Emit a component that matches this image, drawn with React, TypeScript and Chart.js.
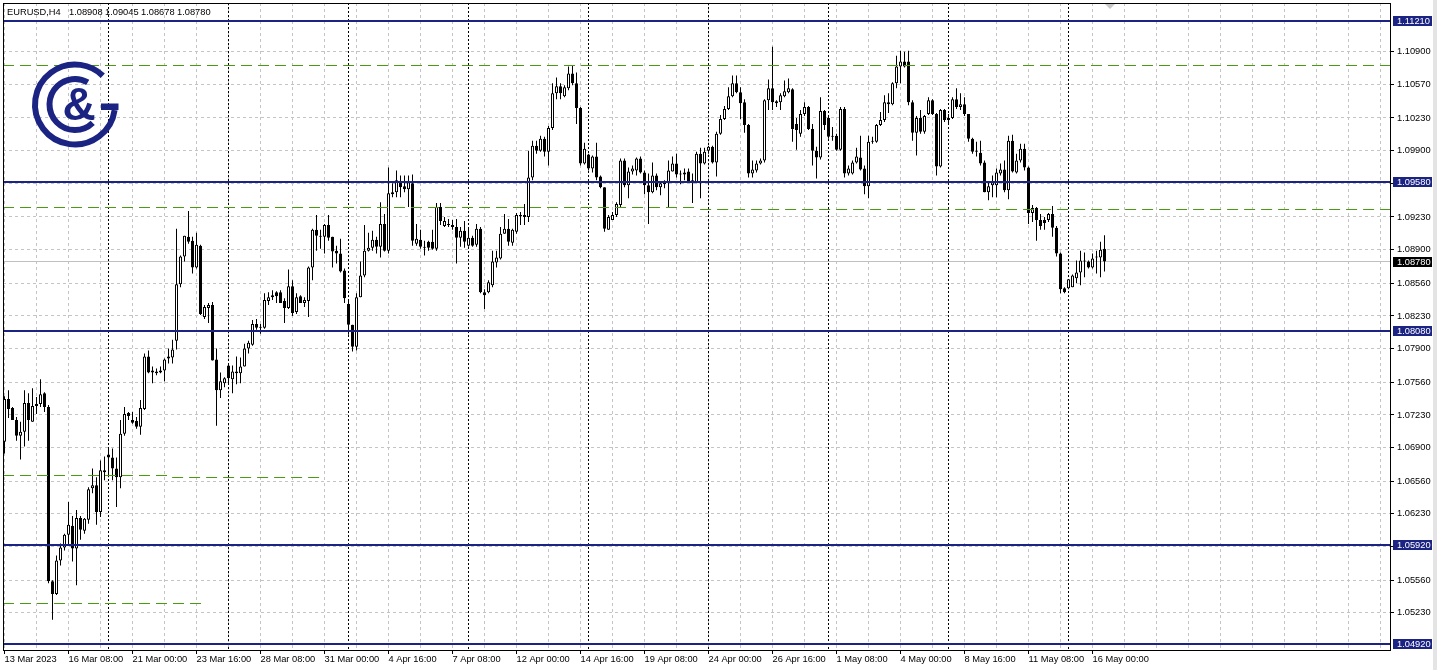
import React, { useEffect, useRef } from "react";
import { Chart, registerables } from "chart.js";

Chart.register(...registerables);

const FONT = "'Liberation Sans', Arial, sans-serif";

const symbolTitle = "EURUSD,H4";
const titleValues = ["1.08908", "1.09045", "1.08678", "1.08780"];

const dateLabels = [
  "13 Mar 2023", "16 Mar 08:00", "21 Mar 00:00", "23 Mar 16:00", "28 Mar 08:00", "31 Mar 00:00",
  "4 Apr 16:00", "7 Apr 08:00", "12 Apr 00:00", "14 Apr 16:00", "19 Apr 08:00", "24 Apr 00:00",
  "26 Apr 16:00", "1 May 08:00", "4 May 00:00", "8 May 16:00", "11 May 08:00", "16 May 00:00",
];
const barsPerLabel = 16;
const barsPerGrid = 8;

const opens = [
  1.0696,1.0739,1.0730,1.0718,1.0702,1.0706,1.0735,1.0716,1.0732,1.0734,1.0745,1.0731,
  1.0555,1.0542,1.0576,1.0589,1.0602,1.0611,1.0588,1.0619,1.0606,1.0617,1.0649,1.0652,
  1.0625,1.0667,1.0683,1.0680,1.0669,1.0660,1.0704,1.0725,1.0718,1.0717,1.0711,1.0729,
  1.0782,1.0768,1.0767,1.0766,1.0768,1.0782,1.0781,1.0798,1.0855,1.0883,1.0903,1.0899,
  1.0872,1.0894,1.0822,1.0831,1.0834,1.0779,1.0748,1.0755,1.0773,1.0759,1.0767,1.0765,
  1.0772,1.0790,1.0794,1.0815,1.0811,1.0811,1.0838,1.0842,1.0847,1.0847,1.0838,1.0831,
  1.0853,1.0827,1.0843,1.0836,1.0838,1.0872,1.0910,1.0904,1.0903,1.0915,1.0903,1.0889,
  1.0886,1.0869,1.0835,1.0814,1.0792,1.0842,1.0864,1.0889,1.0892,1.0900,1.0893,1.0916,
  1.0889,1.0946,1.0948,1.0959,1.0954,1.0951,1.0957,1.0896,1.0900,1.0892,1.0898,1.0898,
  1.0891,1.0933,1.0914,1.0916,1.0915,1.0913,1.0902,1.0909,1.0894,1.0902,1.0895,1.0911,
  1.0847,1.0847,1.0854,1.0877,1.0881,1.0906,1.0911,1.0897,1.0908,1.0924,1.0925,1.0923,
  1.0963,1.0995,1.0990,1.1002,1.0989,1.1013,1.1048,1.1055,1.1045,1.1053,1.1068,1.1058,
  1.1033,1.0977,1.0986,1.0972,1.0984,1.0964,1.0953,1.0910,1.0920,1.0925,1.0935,1.0980,
  1.0955,1.0969,1.0970,1.0982,1.0968,1.0955,1.0948,1.0965,1.0953,1.0956,1.0957,1.0969,
  1.0977,1.0967,1.0966,1.0969,1.0960,1.0958,1.0987,1.0977,1.0990,1.0994,1.0978,1.1007,
  1.1022,1.1032,1.1045,1.1058,1.1049,1.1039,1.1016,1.0967,1.0970,1.0977,1.0980,1.1041,
  1.1053,1.1040,1.1039,1.1045,1.1049,1.1052,1.1017,1.1007,1.1027,1.1034,1.1012,1.0990,
  1.0983,1.1030,1.1023,1.1004,1.1005,1.0991,1.1032,1.0967,1.0967,1.0978,1.0983,1.0972,
  1.0954,1.0999,1.0999,1.1016,1.1021,1.1037,1.1037,1.1058,1.1075,1.1080,1.1080,1.1039,
  1.1008,1.1023,1.1009,1.1027,1.1041,1.1027,1.0974,1.1031,1.1021,1.1023,1.1042,1.1034,
  1.1037,1.1027,1.1002,1.0989,1.0988,1.0978,1.0948,1.0955,1.0955,1.0967,1.0971,1.0950,
  1.1000,1.0968,1.0980,1.0992,1.0973,1.0927,1.0932,1.0920,1.0920,1.0920,1.0926,1.0912,
  1.0886,1.0851,1.0851,1.0852,1.0861,1.0867,1.0878,1.0878,1.0872,1.0883,1.0882,1.08908,
];

const highs = [
  1.0742,1.0748,1.0731,1.0721,1.0716,1.0748,1.0745,1.0750,1.0741,1.0759,1.0746,1.0733,
  1.0556,1.0581,1.0593,1.0603,1.0635,1.0621,1.0627,1.0621,1.0619,1.0650,1.0669,1.0660,
  1.0677,1.0681,1.0689,1.0689,1.0680,1.0718,1.0731,1.0726,1.0726,1.0721,1.0738,1.0785,
  1.0788,1.0772,1.0770,1.0772,1.0780,1.0790,1.0799,1.0911,1.0884,1.0904,1.0929,1.0903,
  1.0907,1.0895,1.0834,1.0836,1.0837,1.0790,1.0766,1.0761,1.0775,1.0773,1.0782,1.0781,
  1.0795,1.0798,1.0819,1.0820,1.0815,1.0846,1.0847,1.0849,1.0848,1.0849,1.0841,1.0870,
  1.0859,1.0846,1.0844,1.0842,1.0873,1.0911,1.0925,1.0910,1.0916,1.0925,1.0903,1.0894,
  1.0901,1.0871,1.0839,1.0814,1.0846,1.0878,1.0915,1.0907,1.0909,1.0903,1.0938,1.0926,
  1.0973,1.0957,1.0970,1.0965,1.0965,1.0965,1.0966,1.0916,1.0910,1.0899,1.0899,1.0910,
  1.0937,1.0937,1.0923,1.0921,1.0920,1.0921,1.0913,1.0919,1.0913,1.0904,1.0916,1.0913,
  1.0850,1.0859,1.0889,1.0889,1.0913,1.0926,1.0921,1.0911,1.0927,1.0928,1.0936,1.0990,
  1.1000,1.1000,1.1005,1.1004,1.1015,1.1058,1.1064,1.1058,1.1056,1.1075,1.1076,1.1069,
  1.1034,1.0998,1.0987,1.0985,1.0998,1.0965,1.0953,1.0925,1.0928,1.0938,1.0982,1.0982,
  1.0973,1.0975,1.0983,1.0984,1.0970,1.0967,1.0978,1.0967,1.0958,1.0960,1.0980,1.0984,
  1.0987,1.0970,1.0972,1.0972,1.0967,1.0989,1.0993,1.0993,1.0995,1.0995,1.1009,1.1026,
  1.1035,1.1054,1.1066,1.1066,1.1054,1.1042,1.1017,1.0980,1.0980,1.0982,1.1042,1.1062,
  1.1095,1.1041,1.1048,1.1061,1.1063,1.1053,1.1023,1.1031,1.1039,1.1035,1.1017,1.0994,
  1.1044,1.1031,1.1025,1.1014,1.1007,1.1034,1.1034,1.0975,1.0980,1.0993,1.1005,1.0975,
  1.1005,1.1004,1.1017,1.1029,1.1046,1.1048,1.1059,1.1086,1.1091,1.1090,1.1091,1.1041,
  1.1025,1.1031,1.1026,1.1044,1.1042,1.1028,1.1032,1.1032,1.1027,1.1044,1.1053,1.1048,
  1.1044,1.1027,1.1003,1.0999,1.1000,1.0980,1.0958,1.0965,1.0972,1.0977,1.0980,1.1005,
  1.1006,1.0987,1.0997,1.0997,1.0974,1.0935,1.0933,1.0926,1.0923,1.0927,1.0934,1.0914,
  1.0887,1.0852,1.0860,1.0865,1.0879,1.0889,1.0887,1.0879,1.0886,1.0889,1.0898,1.09045,
];

const lows = [
  1.0684,1.0720,1.0718,1.0697,1.0678,1.0691,1.0697,1.0716,1.0724,1.0731,1.0726,1.0553,
  1.0516,1.0541,1.0571,1.0586,1.0592,1.0575,1.0551,1.0597,1.0603,1.0613,1.0644,1.0612,
  1.0620,1.0657,1.0660,1.0657,1.0630,1.0649,1.0702,1.0718,1.0714,1.0709,1.0703,1.0728,
  1.0765,1.0755,1.0763,1.0765,1.0757,1.0775,1.0775,1.0789,1.0852,1.0878,1.0896,1.0866,
  1.0871,1.0824,1.0820,1.0816,1.0778,1.0712,1.0740,1.0751,1.0755,1.0745,1.0754,1.0755,
  1.0772,1.0785,1.0793,1.0809,1.0805,1.0810,1.0834,1.0839,1.0836,1.0836,1.0816,1.0830,
  1.0823,1.0825,1.0836,1.0832,1.0822,1.0859,1.0889,1.0891,1.0886,1.0899,1.0872,1.0876,
  1.0867,1.0836,1.0804,1.0787,1.0788,1.0842,1.0862,1.0888,1.0889,1.0886,1.0882,1.0888,
  1.0886,1.0943,1.0943,1.0943,1.0948,1.0933,1.0894,1.0894,1.0891,1.0884,1.0889,1.0890,
  1.0889,1.0915,1.0913,1.0913,1.0910,1.0876,1.0893,1.0892,1.0893,1.0893,1.0893,1.0846,
  1.0830,1.0846,1.0852,1.0872,1.0880,1.0906,1.0894,1.0894,1.0906,1.0915,1.0915,1.0918,
  1.0960,1.0987,1.0989,1.0984,1.0975,1.1011,1.1042,1.1042,1.1044,1.1051,1.1056,1.1017,
  1.0975,1.0976,1.0970,1.0968,1.0960,1.0952,1.0908,1.0910,1.0920,1.0923,1.0933,1.0953,
  1.0942,1.0966,1.0965,1.0967,1.0946,1.0916,1.0947,1.0950,1.0945,1.0952,1.0933,1.0969,
  1.0963,1.0956,1.0960,1.0958,1.0937,1.0957,1.0942,1.0976,1.0987,1.0977,1.0964,1.1006,
  1.1021,1.1031,1.1044,1.1048,1.1022,1.1008,1.0963,1.0963,1.0968,1.0976,1.0978,1.1031,
  1.1031,1.1034,1.1031,1.1044,1.1048,1.0999,1.0991,1.1004,1.1025,1.1011,1.0975,1.0962,
  1.0981,1.1011,1.1002,1.1000,1.0990,1.0990,1.0963,1.0965,1.0966,1.0977,1.0970,1.0946,
  1.0942,1.0997,1.0998,1.1015,1.1019,1.1028,1.1036,1.1053,1.1058,1.1074,1.1036,1.1000,
  1.0985,1.1007,1.1007,1.1026,1.1026,1.0965,1.0973,1.1019,1.1017,1.1022,1.1032,1.1031,
  1.1025,1.0999,1.0987,1.0984,1.0975,1.0948,1.0940,1.0943,1.0943,1.0965,1.0948,1.0941,
  1.0968,1.0967,1.0978,1.0970,1.0916,1.0918,1.0899,1.0910,1.0910,1.0918,1.0903,1.0883,
  1.0846,1.0846,1.0850,1.0852,1.0856,1.0854,1.0862,1.0871,1.0871,1.0866,1.0862,1.08678,
];

const closes = [
  1.0739,1.0729,1.0718,1.0702,1.0706,1.0735,1.0718,1.0732,1.0734,1.0744,1.0731,1.0555,
  1.0542,1.0576,1.0589,1.0602,1.0612,1.0588,1.0619,1.0607,1.0618,1.0648,1.0652,1.0625,
  1.0667,1.0665,1.0680,1.0669,1.0660,1.0704,1.0724,1.0722,1.0715,1.0711,1.0730,1.0782,
  1.0766,1.0766,1.0765,1.0768,1.0779,1.0780,1.0789,1.0855,1.0883,1.0904,1.0898,1.0872,
  1.0895,1.0825,1.0832,1.0834,1.0778,1.0748,1.0757,1.0760,1.0760,1.0767,1.0765,1.0772,
  1.0790,1.0796,1.0815,1.0811,1.0812,1.0839,1.0842,1.0844,1.0843,1.0836,1.0831,1.0853,
  1.0826,1.0842,1.0836,1.0839,1.0872,1.0910,1.0904,1.0903,1.0915,1.0902,1.0888,1.0886,
  1.0868,1.0841,1.0814,1.0792,1.0842,1.0864,1.0889,1.0892,1.0900,1.0893,1.0916,1.0889,
  1.0947,1.0948,1.0960,1.0953,1.0951,1.0958,1.0899,1.0901,1.0893,1.0893,1.0892,1.0891,
  1.0933,1.0919,1.0919,1.0915,1.0913,1.0902,1.0909,1.0898,1.0902,1.0894,1.0911,1.0847,
  1.0844,1.0857,1.0878,1.0882,1.0906,1.0911,1.0898,1.0910,1.0925,1.0925,1.0923,1.0963,
  1.0995,1.0990,1.1002,1.0989,1.1013,1.1048,1.1055,1.1048,1.1054,1.1068,1.1058,1.1033,
  1.0977,1.0992,1.0972,1.0984,1.0963,1.0953,1.0911,1.0923,1.0925,1.0936,1.0980,1.0955,
  1.0969,1.0972,1.0982,1.0968,1.0955,1.0948,1.0965,1.0953,1.0957,1.0958,1.0970,1.0977,
  1.0966,1.0966,1.0968,1.0959,1.0958,1.0987,1.0977,1.0989,1.0994,1.0978,1.1007,1.1022,
  1.1032,1.1045,1.1058,1.1049,1.1038,1.1016,1.0967,1.0971,1.0977,1.0980,1.1041,1.1053,
  1.1039,1.1038,1.1046,1.1050,1.1053,1.1012,1.1011,1.1027,1.1034,1.1012,1.0990,1.0983,
  1.1030,1.1016,1.1004,1.1005,1.0991,1.1032,1.0967,1.0972,1.0978,1.0984,1.0971,1.0954,
  1.0999,1.1000,1.1016,1.1021,1.1039,1.1039,1.1058,1.1075,1.1080,1.1075,1.1039,1.1008,
  1.1023,1.1009,1.1025,1.1041,1.1027,1.0974,1.1031,1.1021,1.1023,1.1042,1.1034,1.1037,
  1.1027,1.1002,1.0989,1.0990,1.0977,1.0948,1.0954,1.0958,1.0968,1.0971,1.0950,1.1000,
  1.0969,1.0980,1.0992,1.0973,1.0927,1.0932,1.0920,1.0914,1.0917,1.0926,1.0912,1.0886,
  1.0850,1.0847,1.0860,1.0864,1.0867,1.0879,1.0879,1.0872,1.0881,1.0882,1.0890,1.08780,
];

const priceTicks = [
  1.109, 1.1057, 1.1023, 1.099, 1.0957, 1.0923, 1.089, 1.0856, 1.0823, 1.079,
  1.0756, 1.0723, 1.069, 1.0656, 1.0623, 1.059, 1.0556, 1.0523,
];
const hiddenPriceTicks = [1.0957, 1.059];

const levelPrices = [1.1121, 1.0958, 1.0808, 1.0592, 1.0492];
const bidPrice = 1.0878;
const weekStartBars = [26, 56, 86, 116, 146, 176, 206, 236, 266];

const greenPrices = [1.1076, 1.0933, 1.0931, 1.0662, 1.0660, 1.0532];
const greenFromBars = [-1, -1, 173.9, -1, 41.9, -1];
const greenToBars = [350, 172.6, 350, 40.9, 80.1, 50.1];

const X_MIN = -0.375;
const X_MAX = 346.375;
const Y_MAX = 1.1139185;
const Y_MIN = 1.0485518;

const NAVY = "#1b2383";
const GREEN = "#4a9a12";
const GRID = "#c4c4c4";

const mtPlugin = {
  id: "mtDecor",
  beforeDatasetsDraw(chart: any) {
    const { ctx, chartArea: a, scales } = chart;
    const x = scales.x;
    const y = scales.y;
    ctx.save();
    const by = Math.floor(y.getPixelForValue(bidPrice)) + 0.5;
    ctx.strokeStyle = "#c0c0c0";
    ctx.lineWidth = 1;
    ctx.beginPath();
    ctx.moveTo(a.left, by);
    ctx.lineTo(a.right, by);
    ctx.stroke();
    ctx.strokeStyle = "#000000";
    ctx.setLineDash([2, 2]);
    for (const b of weekStartBars) {
      const px = Math.floor(x.getPixelForValue(b)) + 0.5;
      ctx.beginPath();
      ctx.moveTo(px, a.top);
      ctx.lineTo(px, a.bottom);
      ctx.stroke();
    }
    ctx.restore();
  },
  afterDatasetsDraw(chart: any) {
    const { ctx, chartArea: a, scales } = chart;
    const x = scales.x;
    const y = scales.y;
    ctx.save();
    ctx.beginPath();
    ctx.rect(a.left, a.top, a.right - a.left, a.bottom - a.top);
    ctx.clip();
    ctx.strokeStyle = GREEN;
    ctx.lineWidth = 1;
    ctx.setLineDash([11, 6]);
    for (let i = 0; i < greenPrices.length; i++) {
      const py = Math.floor(y.getPixelForValue(greenPrices[i])) + 0.5;
      const x1 = Math.max(a.left, x.getPixelForValue(greenFromBars[i]));
      const x2 = Math.min(a.right, x.getPixelForValue(greenToBars[i]));
      ctx.beginPath();
      ctx.moveTo(x1, py);
      ctx.lineTo(x2, py);
      ctx.stroke();
    }
    ctx.setLineDash([]);
    ctx.fillStyle = NAVY;
    for (const p of levelPrices) {
      const py = Math.round(y.getPixelForValue(p));
      ctx.fillRect(a.left, py - 1, a.right - a.left, 2);
    }
    const cx = 75;
    const cy = 104.5;
    ctx.strokeStyle = NAVY;
    ctx.fillStyle = NAVY;
    ctx.lineWidth = 6;
    ctx.beginPath();
    ctx.arc(cx, cy, 40, (8 * Math.PI) / 180, (314 * Math.PI) / 180);
    ctx.stroke();
    ctx.fillRect(101, 103.5, 17.5, 6.5);
    ctx.beginPath();
    ctx.arc(cx, cy, 25.5, (46 * Math.PI) / 180, (300 * Math.PI) / 180);
    ctx.stroke();
    ctx.font = `bold 46px ${FONT}`;
    ctx.textAlign = "center";
    ctx.textBaseline = "middle";
    ctx.fillText("&", 79, 107);
    ctx.restore();

    ctx.save();
    ctx.fillStyle = "#000";
    ctx.font = `9.3px ${FONT}`;
    ctx.textAlign = "left";
    ctx.textBaseline = "alphabetic";
    ctx.fillText(symbolTitle, 7, 15);
    const hx = [69, 105, 141, 177];
    titleValues.forEach((t, i) => ctx.fillText(t, hx[i], 15));
    ctx.fillStyle = "#c8c8c8";
    ctx.beginPath();
    ctx.moveTo(1105, 4);
    ctx.lineTo(1115, 4);
    ctx.lineTo(1110, 9);
    ctx.closePath();
    ctx.fill();
    ctx.strokeStyle = "#000";
    ctx.lineWidth = 1;
    ctx.strokeRect(a.left + 0.5, a.top + 0.5, a.right - a.left, a.bottom - a.top);
    ctx.font = `9.3px ${FONT}`;
    ctx.textBaseline = "middle";
    const boxes = levelPrices.map((p) => ({ p, bg: NAVY }));
    boxes.push({ p: bidPrice, bg: "#000000" });
    for (const b of boxes) {
      const py = Math.round(y.getPixelForValue(b.p));
      ctx.fillStyle = b.bg;
      ctx.fillRect(a.right + 3, py - 5, 39, 10);
      ctx.fillStyle = "#ffffff";
      ctx.fillText(b.p.toFixed(5), a.right + 7, py + 0.5);
    }
    ctx.fillStyle = "#e4e4e4";
    ctx.fillRect(1433, 0, 4, 670);
    ctx.restore();
  },
};

export default function App() {
  const ref = useRef<HTMLCanvasElement>(null);
  useEffect(() => {
    document.body.style.margin = "0";
    const canvas = ref.current as HTMLCanvasElement;
    const n = closes.length;
    const bodies: any[] = [];
    const wicks: any[] = [];
    const colors: string[] = [];
    for (let i = 0; i < n; i++) {
      bodies.push({ x: i, y: [opens[i], closes[i]] });
      wicks.push({ x: i, y: [lows[i], highs[i]] });
      colors.push(closes[i] >= opens[i] ? "#ffffff" : "#000000");
    }
    const xTicks: number[] = [];
    for (let v = 0; v <= X_MAX; v += barsPerGrid) xTicks.push(v);

    const isLabelled = (v: number) =>
      v % barsPerLabel === 0 && v / barsPerLabel < dateLabels.length;

    const chart = new Chart(canvas, {
      type: "bar",
      data: {
        datasets: [
          {
            data: bodies,
            backgroundColor: colors,
            borderColor: "#000000",
            borderWidth: 1,
            borderSkipped: false,
            barThickness: 3,
            minBarLength: 1,
            inflateAmount: 0,
            grouped: false,
          } as any,
          {
            data: wicks,
            backgroundColor: "#000000",
            borderWidth: 0,
            barThickness: 1,
            inflateAmount: 0,
            grouped: false,
          } as any,
        ],
      },
      options: {
        responsive: false,
        animation: false,
        devicePixelRatio: 1,
        events: [],
        layout: { padding: { left: 3, top: 3, right: 0, bottom: 0 } },
        plugins: { legend: { display: false }, tooltip: { enabled: false } },
        scales: {
          x: {
            type: "linear",
            offset: false,
            min: X_MIN,
            max: X_MAX,
            bounds: "data",
            position: "bottom",
            afterBuildTicks: (s: any) => {
              s.ticks = xTicks.map((v) => ({ value: v }));
            },
            afterFit: (s: any) => {
              s.height = 20;
              s.paddingLeft = 0;
              s.paddingRight = 0;
            },
            grid: {
              offset: false,
              color: GRID,
              lineWidth: 1,
              tickLength: 4,
              tickColor: (c: any) =>
                c.tick && isLabelled(c.tick.value) ? "#000000" : "rgba(0,0,0,0)",
            },
            border: { display: false, dash: [3, 3] },
            ticks: {
              autoSkip: false,
              maxRotation: 0,
              minRotation: 0,
              align: "start",
              padding: 0,
              color: "#000000",
              font: { family: FONT, size: 9.3 },
              callback: (v: any) => (isLabelled(v) ? dateLabels[v / barsPerLabel] : ""),
            },
          },
          y: {
            type: "linear",
            position: "right",
            min: Y_MIN,
            max: Y_MAX,
            bounds: "data",
            afterBuildTicks: (s: any) => {
              s.ticks = priceTicks.map((v) => ({ value: v }));
            },
            afterFit: (s: any) => {
              s.width = 47;
              s.paddingTop = 0;
              s.paddingBottom = 0;
            },
            grid: { color: GRID, lineWidth: 1, tickLength: 4, tickColor: "#000000" },
            border: { display: false, dash: [3, 3] },
            ticks: {
              padding: 3,
              color: "#000000",
              font: { family: FONT, size: 9.3 },
              callback: (v: any) =>
                hiddenPriceTicks.some((h) => Math.abs(h - v) < 1e-9) ? "" : Number(v).toFixed(5),
            },
          },
        },
      } as any,
      plugins: [mtPlugin],
    });
    return () => chart.destroy();
  }, []);
  return (
    <canvas
      ref={ref}
      width={1437}
      height={670}
      style={{ display: "block", width: 1437, height: 670 }}
    />
  );
}
